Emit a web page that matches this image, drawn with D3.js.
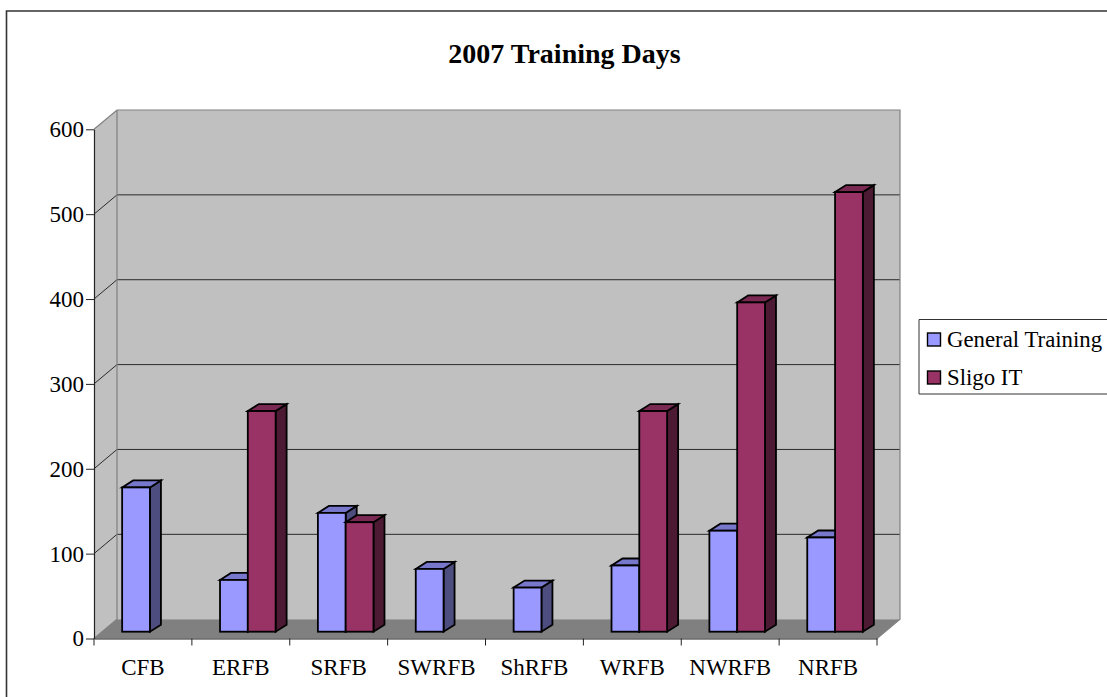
<!DOCTYPE html>
<html>
<head>
<meta charset="utf-8">
<title>2007 Training Days</title>
<script src="https://cdn.jsdelivr.net/npm/d3@7"></script>
<style>
    html, body { margin: 0; padding: 0; background: #fff; }
    svg { display: block; }
    text { font-family: "Liberation Serif", serif; fill: #000; }
</style>
</head>
<body>
<div id="main-chart"></div>
<script>
const chartTitle = "2007 Training Days";
const categories = ["CFB", "ERFB", "SRFB", "SWRFB", "ShRFB", "WRFB", "NWRFB", "NRFB"];
const seriesNames = ["General Training", "Sligo IT"];
const generalTraining = [170, 61, 140, 74, 52, 78, 119, 111];
const sligoIT = [0, 260, 129, 0, 0, 260, 388, 518];
const yTicks = [0, 100, 200, 300, 400, 500, 600];

const seriesValues = [generalTraining, sligoIT];
const faceColors = [
    {front: "#9999ff", top: "#7777cc", side: "#4d4d80"},
    {front: "#993366", top: "#7a2952", side: "#4d1a33"}
];

const width = 1107, height = 697;
const svg = d3.select("#main-chart").append("svg")
    .attr("width", width)
    .attr("height", height);

// outer frame runs off the right and bottom of the picture
svg.append("path")
    .attr("d", `M6.5,${height + 2}V11H${width + 2}`)
    .attr("fill", "none")
    .attr("stroke", "#333")
    .attr("stroke-width", 1.6);

svg.append("text")
    .attr("x", 564.5)
    .attr("y", 62.5)
    .attr("text-anchor", "middle")
    .attr("font-size", 28)
    .attr("font-weight", "bold")
    .text(chartTitle);

const x = d3.scaleBand().domain(categories).range([94, 877]);
const y = d3.scaleLinear().domain([0, 600]).range([638.5, 129.3]);

// the 3D box: how far the back wall sits from the front axes
const wallDx = 23, wallDy = -19.3;
// the bars stand in the middle of the floor, with their own depth
const barDx = 11, barDy = -7, barLift = 6.8, barShift = 7;
const barWidth = 27.8;
const xInner = d3.scaleBand().domain(seriesNames)
    .range([x.bandwidth() / 2 + barShift - barWidth, x.bandwidth() / 2 + barShift + barWidth]);

const x0 = x.range()[0], x1 = x.range()[1];
const y0 = y(0), yTop = y(600);

// side wall and back wall
svg.append("path")
    .attr("d", `M${x0},${y0}L${x0},${yTop}L${x0 + wallDx},${yTop + wallDy}L${x0 + wallDx},${y0 + wallDy}Z`)
    .attr("fill", "#c0c0c0");
svg.append("rect")
    .attr("x", x0 + wallDx)
    .attr("y", yTop + wallDy)
    .attr("width", x1 - x0)
    .attr("height", y0 - yTop)
    .attr("fill", "#c0c0c0");
// floor
svg.append("path")
    .attr("d", `M${x0},${y0}L${x0 + wallDx},${y0 + wallDy}L${x1 + wallDx},${y0 + wallDy}L${x1},${y0}Z`)
    .attr("fill", "#808080");

// gridlines on both walls
svg.append("g").selectAll("path")
    .data(yTicks.filter(d => d > 0 && d < 600))
    .join("path")
    .attr("d", d => `M${x0},${y(d)}L${x0 + wallDx},${y(d) + wallDy}H${x1 + wallDx}`)
    .attr("fill", "none")
    .attr("stroke", "#2a2a2a")
    .attr("stroke-width", 1);

// wall outlines
svg.append("path")
    .attr("d", `M${x0},${yTop}L${x0 + wallDx},${yTop + wallDy}H${x1 + wallDx}V${y0 + wallDy}L${x1},${y0}M${x0 + wallDx},${yTop + wallDy}V${y0 + wallDy}L${x0},${y0}`)
    .attr("fill", "none")
    .attr("stroke", "#808080")
    .attr("stroke-width", 1.2);

// bars, left to right so the taller neighbour covers the side face
const bars = [];
categories.forEach((c, i) => {
    seriesNames.forEach((s, k) => {
        if (seriesValues[k][i] > 0) bars.push({cat: c, series: s, k: k, value: seriesValues[k][i]});
    });
});

const bar = svg.append("g").selectAll("g")
    .data(bars)
    .join("g")
    .attr("stroke", "#000")
    .attr("stroke-width", 1.8)
    .attr("stroke-linejoin", "miter");

const barX = d => x(d.cat) + xInner(d.series);
const barBase = y(0) - barLift;
const barTop = d => y(d.value) - barLift;

bar.append("path")
    .attr("d", d => `M${barX(d) + barWidth},${barTop(d)}l${barDx},${barDy}V${barBase + barDy}l${-barDx},${-barDy}Z`)
    .attr("fill", d => faceColors[d.k].side);
bar.append("path")
    .attr("d", d => `M${barX(d)},${barTop(d)}l${barDx},${barDy}h${barWidth}l${-barDx},${-barDy}Z`)
    .attr("fill", d => faceColors[d.k].top);
bar.append("rect")
    .attr("x", barX)
    .attr("y", barTop)
    .attr("width", barWidth)
    .attr("height", d => barBase - barTop(d))
    .attr("fill", d => faceColors[d.k].front);

// axes
const yAxis = svg.append("g")
    .attr("transform", `translate(${x0},0)`)
    .call(d3.axisLeft(y).tickValues(yTicks).tickFormat(d3.format("d")).tickSize(8).tickSizeOuter(0).tickPadding(2));
const xAxis = svg.append("g")
    .attr("transform", `translate(0,${y0})`)
    .call(d3.axisBottom(x).tickSize(0).tickPadding(20));

// ticks sit on the band edges here, not the centres
xAxis.selectAll(".edge-tick")
    .data(d3.range(categories.length + 1))
    .join("line")
    .attr("class", "edge-tick")
    .attr("x1", d => x0 + d * x.step())
    .attr("x2", d => x0 + d * x.step())
    .attr("y1", 0)
    .attr("y2", 7)
    .attr("stroke", "#222");

[yAxis, xAxis].forEach(a => {
    a.select(".domain").attr("stroke", "#222").attr("stroke-width", 1.2);
    a.selectAll(".tick line").attr("stroke", "#222");
    a.selectAll("text")
        .attr("font-family", '"Liberation Serif", serif')
        .attr("fill", "#000")
        .attr("font-size", 23);
});

// legend
const legendRows = [339.5, 377.5];
const legend = svg.append("g");
legend.append("path")
    .attr("d", `M${width + 2},319.5H919V394H${width + 2}`)
    .attr("fill", "#fff")
    .attr("stroke", "#333")
    .attr("stroke-width", 1);
const legendItem = legend.selectAll("g")
    .data(seriesNames)
    .join("g")
    .attr("transform", (d, i) => `translate(927.5,${legendRows[i]})`);
legendItem.append("rect")
    .attr("y", -6.5)
    .attr("width", 13)
    .attr("height", 13)
    .attr("fill", (d, i) => faceColors[i].front)
    .attr("stroke", "#000")
    .attr("stroke-width", 1.4);
legendItem.append("text")
    .attr("x", 19.5)
    .attr("y", 7)
    .attr("font-size", 22.8)
    .text(d => d);
</script>
</body>
</html>
